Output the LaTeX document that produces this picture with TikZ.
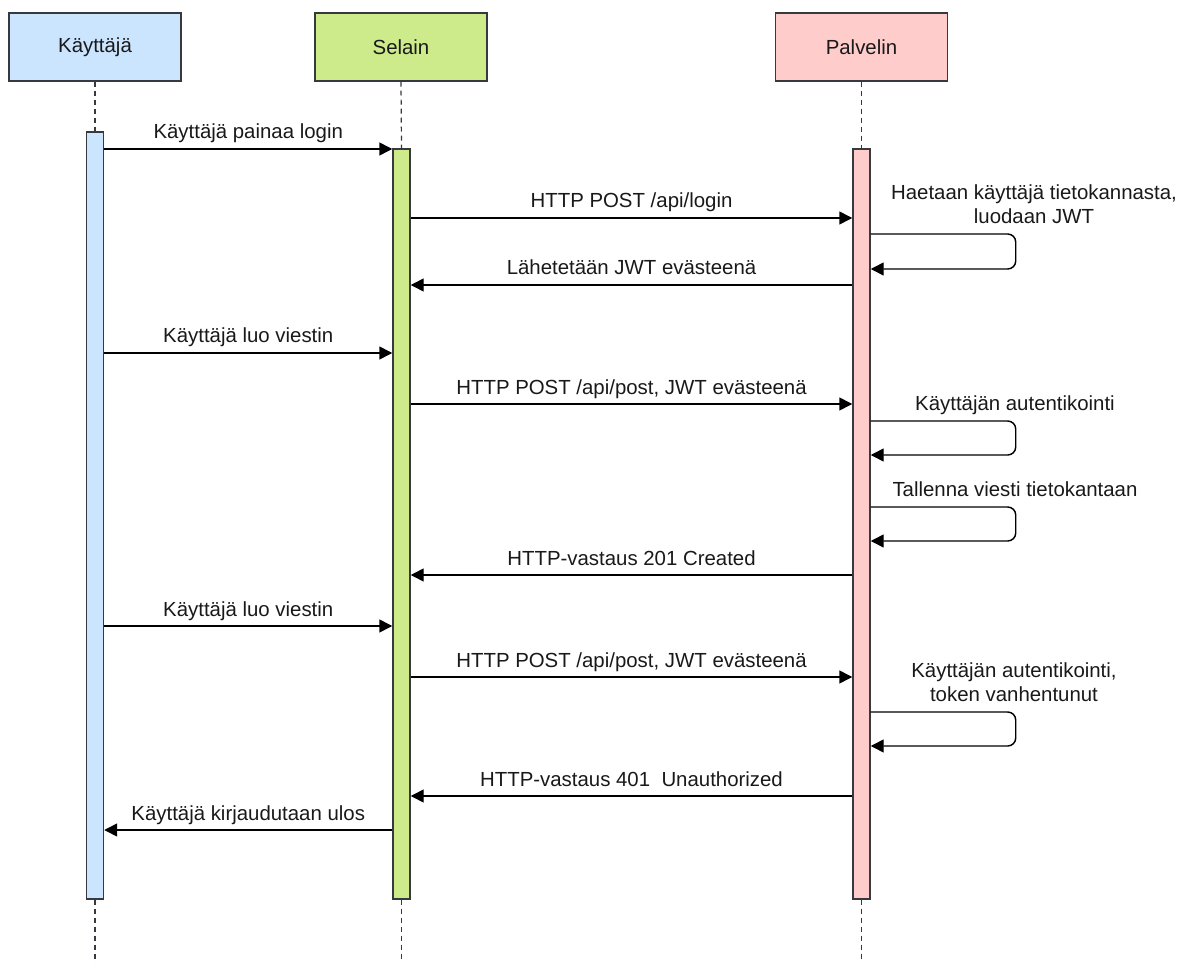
\documentclass[tikz,border=0pt]{standalone}
\usepackage{fontspec}
\setmainfont{Liberation Sans}
\usetikzlibrary{arrows.meta,calc}
\definecolor{userfill}{HTML}{CCE5FF}
\definecolor{browserfill}{HTML}{CDEB8B}
\definecolor{serverfill}{HTML}{FFCCCC}
\definecolor{edge}{HTML}{36393D}
\begin{document}
\begin{tikzpicture}[x=0.75pt,y=-0.75pt,
  every node/.style={font=\fontsize{15.3}{18}\selectfont, text=black!90},
  actor/.style={draw=edge, line width=1.1pt, minimum width=129pt, minimum height=51pt, inner sep=0pt},
  bar/.style={draw=edge, line width=1.1pt, minimum width=12.75pt, inner sep=0pt},
  life/.style={draw=edge, line width=0.9pt, dash pattern=on 3.75pt off 3pt},
  msg/.style={draw=black, line width=1.1pt, -{Triangle[length=9.75pt,width=9.75pt]}},
  loopmsg/.style={msg, rounded corners=6pt},
  msglbl/.style={midway, anchor=base, yshift=7.5pt, inner sep=0pt},
  looplbl/.style={anchor=south, align=center, inner sep=0pt, text depth=0pt}]

\useasboundingbox (0,0) rectangle (1197,963);

% participants
\node[actor, fill=userfill]    (kbox) at (95,47)    {Käyttäjä};
\node[actor, fill=browserfill] (sbox) at (401,47)   {Selain};
\node[actor, fill=serverfill]  (pbox) at (861.5,47) {Palvelin};

% activation bars
\node[bar, fill=userfill,    minimum height=575.25pt] (kbar) at (95,515.5) {};
\node[bar, fill=browserfill, minimum height=562.5pt]  (sbar) at (401.5,524) {};
\node[bar, fill=serverfill,  minimum height=562.5pt]  (pbar) at (861.5,524) {};

% lifelines
\coordinate (floor) at (0,963);
\draw[life] (kbox.south) -- (kbar.north);
\draw[life] (sbox.south) -- (sbar.north);
\draw[life] (pbox.south) -- (pbar.north);
\draw[life] (kbar.south) -- (kbar.south |- floor);
\draw[life] (sbar.south) -- (sbar.south |- floor);
\draw[life] (pbar.south) -- (pbar.south |- floor);

% message rows
\coordinate (r1) at (0,149);
\coordinate (r2) at (0,218);
\coordinate (l1a) at (0,234);
\coordinate (l1b) at (0,269);
\coordinate (r3) at (0,285);
\coordinate (r4) at (0,353);
\coordinate (r5) at (0,404);
\coordinate (l2a) at (0,421);
\coordinate (l2b) at (0,455);
\coordinate (l3a) at (0,507);
\coordinate (l3b) at (0,541);
\coordinate (r6) at (0,575);
\coordinate (r7) at (0,626);
\coordinate (r8) at (0,677);
\coordinate (l4a) at (0,712);
\coordinate (l4b) at (0,746);
\coordinate (r9) at (0,796);
\coordinate (r10) at (0,830);

% messages
\draw[msg] (kbar.east |- r1) -- node[msglbl] {Käyttäjä painaa login} (sbar.west |- r1);
\draw[msg] (sbar.east |- r2) -- node[msglbl] {HTTP POST /api/login} (pbar.west |- r2);
\draw[loopmsg] (pbar.east |- l1a) -- ++(145,0) |- (pbar.east |- l1b);
\node[looplbl] (t1) at (1034,224) {Haetaan käyttäjä tietokannasta,\\luodaan JWT};
\draw[msg] (pbar.west |- r3) -- node[msglbl] {Lähetetään JWT evästeenä} (sbar.east |- r3);

\draw[msg] (kbar.east |- r4) -- node[msglbl] {Käyttäjä luo viestin} (sbar.west |- r4);
\draw[msg] (sbar.east |- r5) -- node[msglbl] {HTTP POST /api/post, JWT evästeenä} (pbar.west |- r5);
\draw[loopmsg] (pbar.east |- l2a) -- ++(145,0) |- (pbar.east |- l2b);
\node[looplbl] (t2) at (1015,411) {Käyttäjän autentikointi};
\draw[loopmsg] (pbar.east |- l3a) -- ++(145,0) |- (pbar.east |- l3b);
\node[looplbl] (t3) at (1015,497) {Tallenna viesti tietokantaan};
\draw[msg] (pbar.west |- r6) -- node[msglbl] {HTTP-vastaus 201 Created} (sbar.east |- r6);

\draw[msg] (kbar.east |- r7) -- node[msglbl] {Käyttäjä luo viestin} (sbar.west |- r7);
\draw[msg] (sbar.east |- r8) -- node[msglbl] {HTTP POST /api/post, JWT evästeenä} (pbar.west |- r8);
\draw[loopmsg] (pbar.east |- l4a) -- ++(145,0) |- (pbar.east |- l4b);
\node[looplbl] (t4) at (1014,702) {Käyttäjän autentikointi,\\token vanhentunut};
\draw[msg] (pbar.west |- r9) -- node[msglbl] {HTTP-vastaus 401\ \ Unauthorized} (sbar.east |- r9);
\draw[msg] (sbar.west |- r10) -- node[msglbl] {Käyttäjä kirjaudutaan ulos} (kbar.east |- r10);

\end{tikzpicture}
\end{document}
